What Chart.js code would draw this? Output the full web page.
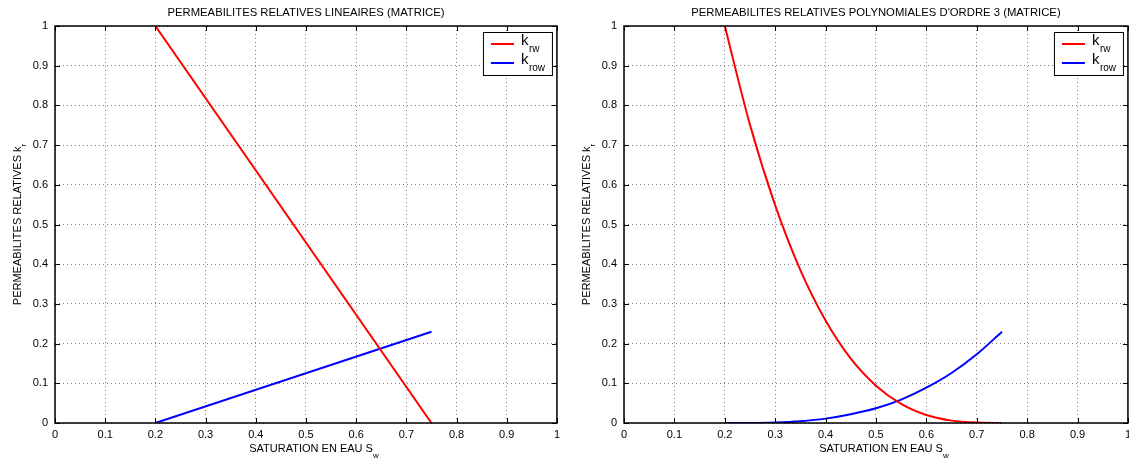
<!DOCTYPE html>
<html>
<head>
<meta charset="utf-8">
<script src="https://cdn.jsdelivr.net/npm/chart.js@4"></script>
<style>
  html, body { margin: 0; padding: 0; background: #fff; overflow: hidden; }
  #wrap { position: relative; width: 1129px; height: 462px; overflow: hidden; }
  canvas { position: absolute; top: 0; }
</style>
</head>
<body>
<div id="wrap">
  <canvas id="lin" style="left:0px"></canvas>
  <canvas id="poly" style="left:569px"></canvas>
</div>
<script>
// saturation values
const swLin = [0.2, 0.75];
const krwLin = [1, 0];
const krowLin = [0, 0.23];

const swPoly = [0.2, 0.25, 0.3, 0.35, 0.4, 0.45, 0.5, 0.55, 0.6, 0.65, 0.7, 0.75];
const krwPoly = [1, 0.751, 0.548, 0.385, 0.258, 0.162, 0.094, 0.048, 0.02, 0.006, 0.001, 0];
const krowPoly = [0, 0.0002, 0.0014, 0.0046, 0.011, 0.022, 0.037, 0.059, 0.089, 0.126, 0.173, 0.23];

const tickLabels = ["0", "0.1", "0.2", "0.3", "0.4", "0.5", "0.6", "0.7", "0.8", "0.9", "1"];

const titles = [
  "PERMEABILITES RELATIVES LINEAIRES (MATRICE)",
  "PERMEABILITES RELATIVES POLYNOMIALES D'ORDRE 3 (MATRICE)"
];
const seriesLabels = [["k", "rw"], ["k", "row"]];
const xLabel = ["SATURATION EN EAU S", "w"];
const yLabel = ["PERMEABILITES RELATIVES k", "r"];

const FONT = "'Liberation Sans', Arial, Helvetica, sans-serif";

const pts = (xs, ys) => xs.map((x, i) => ({ x: x, y: ys[i] }));
const fmt = (v) => tickLabels[Math.round(v * 10)];

// box, inward ticks, title, axis labels, legend
const decor = {
  id: "decor",
  afterDatasetsDraw(chart, args, opts) {
    const ctx = chart.ctx;
    const a = chart.chartArea;
    const sx = chart.scales.x, sy = chart.scales.y;
    ctx.save();
    ctx.strokeStyle = "#000";
    ctx.lineWidth = 1;
    // ticks
    ctx.beginPath();
    sx.ticks.forEach(t => {
      const px = Math.round(sx.getPixelForValue(t.value)) + 0.5;
      ctx.moveTo(px, a.bottom); ctx.lineTo(px, a.bottom - 5);
      ctx.moveTo(px, a.top); ctx.lineTo(px, a.top + 5);
    });
    sy.ticks.forEach(t => {
      const py = Math.round(sy.getPixelForValue(t.value)) + 0.5;
      ctx.moveTo(a.left, py); ctx.lineTo(a.left + 5, py);
      ctx.moveTo(a.right, py); ctx.lineTo(a.right - 5, py);
    });
    ctx.stroke();
    ctx.lineWidth = 1.5;
    ctx.strokeRect(a.left, a.top, a.right - a.left, a.bottom - a.top);

    // title
    ctx.fillStyle = "#000";
    ctx.font = "11.3px " + FONT;
    ctx.textAlign = "center";
    ctx.textBaseline = "alphabetic";
    const cx = (a.left + a.right) / 2;
    ctx.fillText(opts.title, cx, 16);

    // x label with subscript
    ctx.font = "11px " + FONT;
    const w1 = ctx.measureText(xLabel[0]).width;
    ctx.font = "8px " + FONT;
    const w2 = ctx.measureText(xLabel[1]).width;
    let x0 = cx - (w1 + w2) / 2 + 8;
    ctx.textAlign = "left";
    ctx.font = "11px " + FONT;
    ctx.fillText(xLabel[0], x0, 452);
    ctx.font = "8px " + FONT;
    ctx.fillText(xLabel[1], x0 + w1, 458);

    // y label rotated
    ctx.save();
    ctx.translate(21, (a.top + a.bottom) / 2);
    ctx.rotate(-Math.PI / 2);
    ctx.font = "11px " + FONT;
    const h1 = ctx.measureText(yLabel[0]).width;
    ctx.font = "8px " + FONT;
    const h2 = ctx.measureText(yLabel[1]).width;
    const y0 = -(h1 + h2) / 2;
    ctx.font = "11px " + FONT;
    ctx.fillText(yLabel[0], y0, 0);
    ctx.font = "8px " + FONT;
    ctx.fillText(yLabel[1], y0 + h1, 5);
    ctx.restore();

    // legend
    const bw = 69, bh = 43;
    const bx = a.right - 5 - bw, by = a.top + 6;
    ctx.fillStyle = "#fff";
    ctx.fillRect(bx, by, bw, bh);
    ctx.lineWidth = 1;
    ctx.strokeStyle = "#000";
    ctx.strokeRect(bx + 0.5, by + 0.5, bw, bh);
    chart.data.datasets.forEach((ds, i) => {
      const ly = by + 12 + i * 19;
      ctx.strokeStyle = ds.borderColor;
      ctx.lineWidth = 2;
      ctx.beginPath();
      ctx.moveTo(bx + 8, ly); ctx.lineTo(bx + 31, ly);
      ctx.stroke();
      ctx.fillStyle = "#000";
      ctx.textAlign = "left";
      ctx.font = "15px " + FONT;
      ctx.fillText(seriesLabels[i][0], bx + 38, ly + 1);
      ctx.font = "10px " + FONT;
      ctx.fillText(seriesLabels[i][1], bx + 46, ly + 8);
    });
    ctx.restore();
  }
};

function makeChart(id, width, padRight, title, xs, rw, row, smooth) {
  const cv = document.getElementById(id);
  cv.width = width; cv.height = 462;
  cv.style.width = width + "px"; cv.style.height = "462px";
  const lineDs = (label, data, color) => ({
    label: label,
    data: data,
    borderColor: color,
    backgroundColor: color,
    borderWidth: 2,
    pointRadius: 0,
    fill: false,
    cubicInterpolationMode: smooth ? "monotone" : "default"
  });
  return new Chart(cv, {
    type: "line",
    data: {
      datasets: [
        lineDs("k_rw", pts(xs, rw), "#ff0000"),
        lineDs("k_row", pts(xs, row), "#0000ff")
      ]
    },
    options: {
      responsive: false,
      animation: false,
      layout: { padding: { top: 26, right: padRight, left: 0, bottom: 0 } },
      plugins: {
        legend: { display: false },
        tooltip: { enabled: false },
        decor: { title: title }
      },
      scales: {
        x: {
          type: "linear", min: 0, max: 1,
          ticks: { stepSize: 0.1, callback: fmt, color: "#000", font: { size: 11, family: FONT }, padding: 5, maxRotation: 0, autoSkip: false },
          grid: { color: "rgba(0,0,0,0.5)", drawTicks: false },
          border: { display: false, dash: [1, 3] },
          afterFit: s => { s.height = 39; }
        },
        y: {
          type: "linear", min: 0, max: 1,
          ticks: { stepSize: 0.1, callback: fmt, color: "#000", font: { size: 11, family: FONT }, padding: 7 },
          grid: { color: "rgba(0,0,0,0.5)", drawTicks: false },
          border: { display: false, dash: [1, 3] },
          afterFit: s => { s.width = 55; }
        }
      }
    },
    plugins: [decor]
  });
}

makeChart("lin", 565, 7, titles[0], swLin, krwLin, krowLin, false);
makeChart("poly", 567, 4, titles[1], swPoly, krwPoly, krowPoly, true);
</script>
</body>
</html>
